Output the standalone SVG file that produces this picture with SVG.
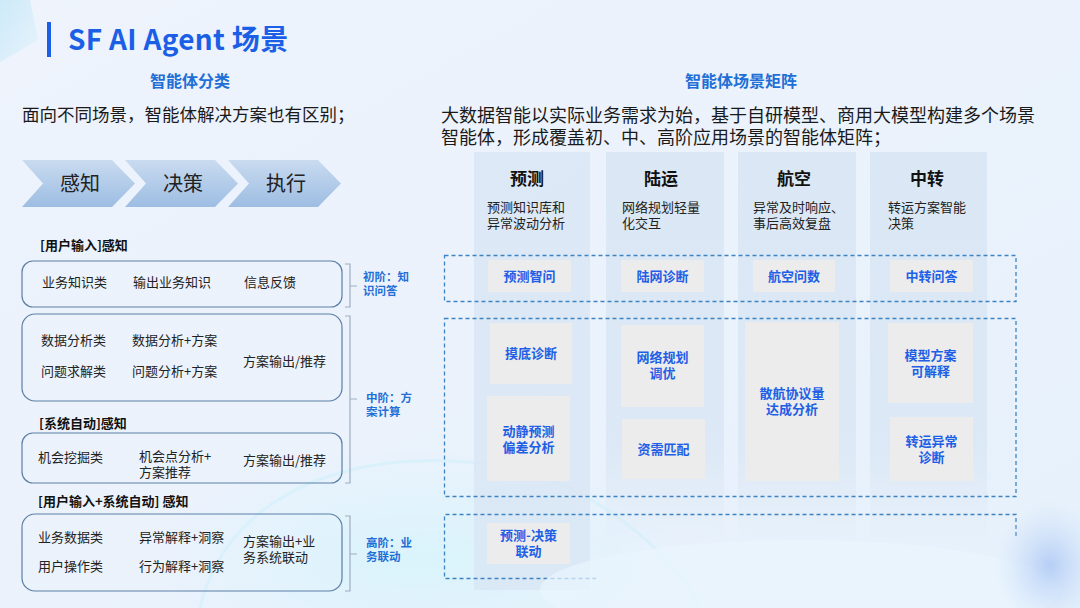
<svg xmlns="http://www.w3.org/2000/svg" width="1080" height="608" viewBox="0 0 1080 608">
<defs>
<linearGradient id="bg" x1="0" y1="0" x2="1" y2="1">
<stop offset="0" stop-color="#eef3fc"/>
<stop offset="0.6" stop-color="#eaf2fc"/>
<stop offset="1" stop-color="#e6f1fb"/>
</linearGradient>
<linearGradient id="chev" x1="0" y1="0" x2="0" y2="1">
<stop offset="0" stop-color="#c9dbf0"/>
<stop offset="1" stop-color="#9dbde2"/>
</linearGradient>
<linearGradient id="colfade" gradientUnits="userSpaceOnUse" x1="0" y1="152" x2="0" y2="545">
<stop offset="0" stop-color="#d9e6f4" stop-opacity="0.9"/>
<stop offset="0.75" stop-color="#d9e6f4" stop-opacity="0.8"/>
<stop offset="1" stop-color="#d9e6f4" stop-opacity="0"/>
</linearGradient>
<radialGradient id="glow1" cx="0.5" cy="0.5" r="0.5">
<stop offset="0" stop-color="#d8f4fc" stop-opacity="0.9"/>
<stop offset="1" stop-color="#d8f4fc" stop-opacity="0"/>
</radialGradient>
<radialGradient id="glow2" cx="0.5" cy="0.5" r="0.5">
<stop offset="0" stop-color="#a9c6f5" stop-opacity="0.8"/>
<stop offset="1" stop-color="#c9dcf8" stop-opacity="0"/>
</radialGradient>
<linearGradient id="corner" x1="0" y1="0" x2="1" y2="1">
<stop offset="0" stop-color="#bfe6f7"/>
<stop offset="1" stop-color="#e3f3fb"/>
</linearGradient>
</defs>
<style>
text{font-family:"Noto Sans CJK SC","Noto Sans",sans-serif;}
.t13{font-size:13px;fill:#222;}
.lbl{font-size:13px;font-weight:bold;fill:#111;}
.bl{font-size:11.5px;font-weight:bold;fill:#1f6fd6;}
.hd{font-size:17px;font-weight:bold;fill:#111;text-anchor:middle;}
.sb{font-size:13px;font-weight:bold;fill:#1f5fe6;text-anchor:middle;}
.box{fill:none;stroke:#5c7fa6;stroke-width:1.2;}
.br{fill:none;stroke:#9eadbd;stroke-width:1.2;}
.dash{fill:none;stroke:#3f84c2;stroke-width:1.3;stroke-dasharray:4 3;}
.cell{fill:#ececec;}
.col{fill:url(#colfade);}
.chev{fill:url(#chev);}
.ct{font-size:20px;fill:#222;text-anchor:middle;}
</style>
<rect width="1080" height="608" fill="url(#bg)"/>
<g id="decor">
<polygon points="0,0 30,0 38,40 0,62" fill="url(#corner)" opacity="0.7"/>
<ellipse cx="420" cy="560" rx="260" ry="110" fill="url(#glow1)"/>
<path d="M200,608 C230,480 380,440 520,470 C600,490 680,560 700,608" fill="none" stroke="#d0f0fb" stroke-width="3" opacity="0.6"/>
</g>
<g id="title">
<rect x="47" y="22" width="4" height="35" fill="#1a5fe6"/>
<text x="68" y="50" style="font-size:28px;font-weight:bold;fill:#1a5fe6;letter-spacing:0.3px;">SF AI Agent 场景</text>
</g>
<g id="left-header">
<text x="190" y="87" style="font-size:16px;font-weight:bold;fill:#1f6fd6;text-anchor:middle;">智能体分类</text>
<text x="22" y="121" style="font-size:17.5px;fill:#1a1a1a;">面向不同场景，智能体解决方案也有区别；</text>
</g>
<g id="chev-1">
<polygon class="chev" points="22,160 112,160 135,183.5 112,207 22,207 43,183.5"/>
<text class="ct" x="80" y="191">感知</text>
</g>
<g id="chev-2">
<polygon class="chev" points="125,160 215,160 238,183.5 215,207 125,207 146,183.5"/>
<text class="ct" x="183" y="191">决策</text>
</g>
<g id="chev-3">
<polygon class="chev" points="228,160 318,160 341,183.5 318,207 228,207 249,183.5"/>
<text class="ct" x="286" y="191">执行</text>
</g>
<g id="group-user">
<text class="lbl" x="40" y="250">[用户输入]感知</text>
<rect class="box" x="22" y="261" width="320" height="46" rx="11"/>
<text class="t13" x="42" y="287">业务知识类</text>
<text class="t13" x="133" y="287">输出业务知识</text>
<text class="t13" x="244" y="287">信息反馈</text>
</g>
<g id="group-analysis">
<rect class="box" x="22" y="314" width="320" height="87" rx="13"/>
<text class="t13" x="41" y="345">数据分析类</text>
<text class="t13" x="132" y="345">数据分析+方案</text>
<text class="t13" x="41" y="376">问题求解类</text>
<text class="t13" x="132" y="376">问题分析+方案</text>
<text class="t13" x="243" y="366">方案输出/推荐</text>
</g>
<g id="group-system">
<text class="lbl" x="39" y="428">[系统自动]感知</text>
<rect class="box" x="22" y="433" width="320" height="50" rx="11"/>
<text class="t13" x="38" y="462">机会挖掘类</text>
<text class="t13" x="139" y="461">机会点分析+</text>
<text class="t13" x="139" y="477">方案推荐</text>
<text class="t13" x="243" y="465">方案输出/推荐</text>
</g>
<g id="group-both">
<text class="lbl" x="38" y="506">[用户输入+系统自动] 感知</text>
<rect class="box" x="22" y="514" width="320" height="77" rx="13"/>
<text class="t13" x="38" y="542">业务数据类</text>
<text class="t13" x="139" y="542">异常解释+洞察</text>
<text class="t13" x="38" y="571">用户操作类</text>
<text class="t13" x="139" y="571">行为解释+洞察</text>
<text class="t13" x="243" y="546">方案输出+业</text>
<text class="t13" x="243" y="562">务系统联动</text>
</g>
<g id="brackets">
<path class="br" d="M345,264 H350 V307 H345 M350,286 H357"/>
<path class="br" d="M345,316 H350 V483 H345 M350,399 H357"/>
<path class="br" d="M345,516 H350 V591 H345 M350,554 H357"/>
</g>
<g id="level-labels">
<text class="bl" x="363" y="281">初阶：知</text>
<text class="bl" x="363" y="295">识问答</text>
<text class="bl" x="366" y="402">中阶：方</text>
<text class="bl" x="366" y="416">案计算</text>
<text class="bl" x="366" y="547">高阶：业</text>
<text class="bl" x="366" y="561">务联动</text>
</g>
<g id="right-header">
<text x="741" y="87" style="font-size:16px;font-weight:bold;fill:#1f6fd6;text-anchor:middle;">智能体场景矩阵</text>
<text x="441" y="122" style="font-size:18px;fill:#1a1a1a;">大数据智能以实际业务需求为始，基于自研模型、商用大模型构建多个场景</text>
<text x="441" y="144" style="font-size:18px;fill:#1a1a1a;">智能体，形成覆盖初、中、高阶应用场景的智能体矩阵；</text>
</g>
<g id="col-forecast">
<rect x="474" y="152" width="116" height="438" fill="#d9e6f4" opacity="0.85"/>
<text class="hd" x="527" y="185">预测</text>
<text class="t13" x="487" y="212">预测知识库和</text>
<text class="t13" x="487" y="228">异常波动分析</text>
</g>
<g id="col-land">
<rect class="col" x="606" y="152" width="118" height="393"/>
<text class="hd" x="661" y="185">陆运</text>
<text class="t13" x="622" y="212">网络规划轻量</text>
<text class="t13" x="622" y="228">化交互</text>
</g>
<g id="col-air">
<rect class="col" x="738" y="152" width="118" height="393"/>
<text class="hd" x="794" y="185">航空</text>
<text class="t13" x="753" y="212">异常及时响应、</text>
<text class="t13" x="753" y="228">事后高效复盘</text>
</g>
<g id="col-transfer">
<rect class="col" x="870" y="152" width="117" height="393"/>
<text class="hd" x="927" y="185">中转</text>
<text class="t13" x="888" y="212">转运方案智能</text>
<text class="t13" x="888" y="228">决策</text>
</g>
<g id="tiers">
<rect class="dash" x="444.5" y="255.5" width="571.5" height="46"/>
<rect class="dash" x="444.5" y="318.5" width="571.5" height="178"/>
<path class="dash" d="M1016,536 V514.5 H444.5 V578.5 H596"/>
</g>
<g id="cell-yczw"><rect class="cell" x="488" y="260" width="83" height="32"/><text class="sb" x="529.5" y="281">预测智问</text></g>
<g id="cell-lwzd"><rect class="cell" x="621" y="260" width="83" height="32"/><text class="sb" x="662.5" y="281">陆网诊断</text></g>
<g id="cell-hkws"><rect class="cell" x="753" y="260" width="82" height="32"/><text class="sb" x="794" y="281">航空问数</text></g>
<g id="cell-zzwd"><rect class="cell" x="890" y="260" width="83" height="32"/><text class="sb" x="931.5" y="281">中转问答</text></g>
<g id="cell-mdzd"><rect class="cell" x="490" y="323" width="82" height="61"/><text class="sb" x="531" y="358">摸底诊断</text></g>
<g id="cell-djyc"><rect class="cell" x="487" y="396" width="83" height="85"/><text class="sb" x="528.5" y="436">动静预测</text><text class="sb" x="528.5" y="452">偏差分析</text></g>
<g id="cell-wlgh"><rect class="cell" x="621" y="325" width="83" height="82"/><text class="sb" x="662.5" y="362">网络规划</text><text class="sb" x="662.5" y="378">调优</text></g>
<g id="cell-zxpp"><rect class="cell" x="622" y="419" width="83" height="60"/><text class="sb" x="663.5" y="454">资需匹配</text></g>
<g id="cell-shxy"><rect class="cell" x="745" y="322" width="94" height="159"/><text class="sb" x="792" y="398">散航协议量</text><text class="sb" x="792" y="414">达成分析</text></g>
<g id="cell-mxfa"><rect class="cell" x="888" y="323" width="85" height="80"/><text class="sb" x="930.5" y="360">模型方案</text><text class="sb" x="930.5" y="376">可解释</text></g>
<g id="cell-zyyc"><rect class="cell" x="890" y="417" width="83" height="64"/><text class="sb" x="931.5" y="446">转运异常</text><text class="sb" x="931.5" y="462">诊断</text></g>
<g id="cell-ycjc"><rect class="cell" x="487" y="523" width="83" height="41"/><text class="sb" x="528.5" y="540">预测-决策</text><text class="sb" x="528.5" y="556">联动</text></g>
<g id="glow-overlay">
<ellipse cx="800" cy="590" rx="260" ry="50" fill="#eaf5fd" opacity="0.7"/>
<ellipse cx="1050" cy="565" rx="55" ry="65" fill="url(#glow2)"/>
</g>
</svg>
